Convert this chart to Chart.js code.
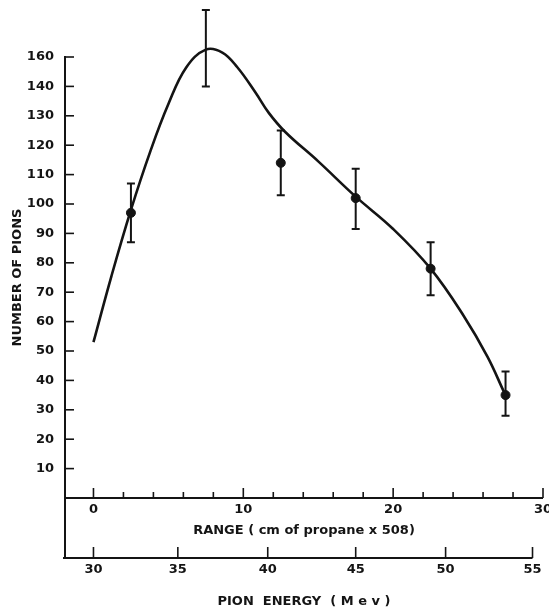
<!DOCTYPE html>
<html>
<head>
<meta charset="utf-8">
<script src="https://cdn.jsdelivr.net/npm/chart.js@4/dist/chart.umd.min.js"></script>
<style>
  html, body { margin: 0; padding: 0; background: #fff; }
  #wrap { width: 549px; height: 611px; }
</style>
</head>
<body>
<div id="wrap"><canvas id="chart"></canvas></div>
<script>
// Measured points (range in cm of propane x 508, number of pions).
const pointRange = [2.5, 7.5, 12.5, 17.5, 22.5, 27.5];
const pointCount = [97, 152.5, 114, 102, 78, 35];
const errLow = [87, 140, 103, 91.5, 69, 28];
const errHigh = [107, 166, 125, 112, 87, 43];

// Hand-drawn smooth curve through the points.
const curveRange = [0, 1.2, 2.5, 3.8, 5, 6.2, 7.5, 8.6, 9.6, 10.8, 11.7, 12.8,
  15, 17.5, 20, 22.5, 24.7, 26.3, 27.4];
const curveCount = [53, 75.5, 98, 118, 134, 146.5, 152.5, 151.5, 146.5, 138, 131, 124.5,
  114.5, 102.5, 91.5, 78, 62, 48, 36];

// Axes.
const yTicks = [10, 20, 30, 40, 50, 60, 70, 80, 90, 100, 110, 120, 130, 140, 150];
const rangeTicks = [0, 10, 20, 30];
const rangeMinorTicks = [0, 2, 4, 6, 8, 10, 12, 14, 16, 18, 20, 22, 24, 26, 28, 30];
const energyLabels = ['30', '35', '40', '45', '50', '55'];
const energyAtRange = [0, 5.63, 11.63, 17.5, 23.5, 29.3];

const INK = '#141414';
const FONT = {family: 'DejaVu Sans', size: 13, weight: 'bold'};

// Axis lines, tick marks and error bars, drawn off the chart's own scales.
const axesPlugin = {
  id: 'oldAxes',
  afterDatasetsDraw(chart) {
    const ctx = chart.ctx;
    const x = chart.scales.x;
    const y = chart.scales.y;
    const e = chart.scales.energy;
    const area = chart.chartArea;
    ctx.save();
    ctx.strokeStyle = INK;
    ctx.lineCap = 'butt';

    // vertical axis
    ctx.lineWidth = 2;
    ctx.beginPath();
    ctx.moveTo(area.left, y.getPixelForValue(150) - 1);
    ctx.lineTo(area.left, e.top + 1);
    ctx.stroke();
    ctx.lineWidth = 1.6;
    yTicks.forEach(function(v) {
      const py = y.getPixelForValue(v);
      ctx.beginPath();
      ctx.moveTo(area.left, py);
      ctx.lineTo(area.left + 9, py);
      ctx.stroke();
    });

    // range axis
    ctx.lineWidth = 2;
    ctx.beginPath();
    ctx.moveTo(area.left, area.bottom);
    ctx.lineTo(x.getPixelForValue(30), area.bottom);
    ctx.stroke();
    ctx.lineWidth = 1.6;
    rangeMinorTicks.forEach(function(v) {
      const px = x.getPixelForValue(v);
      const h = (v % 10 === 0) ? 10 : 6;
      ctx.beginPath();
      ctx.moveTo(px, area.bottom);
      ctx.lineTo(px, area.bottom - h);
      ctx.stroke();
    });

    // energy axis
    ctx.lineWidth = 2;
    ctx.beginPath();
    ctx.moveTo(area.left - 2, e.top);
    ctx.lineTo(e.getPixelForValue(energyAtRange[energyAtRange.length - 1]), e.top);
    ctx.stroke();
    ctx.lineWidth = 1.6;
    energyAtRange.forEach(function(v) {
      const px = e.getPixelForValue(v);
      ctx.beginPath();
      ctx.moveTo(px, e.top);
      ctx.lineTo(px, e.top - 11);
      ctx.stroke();
    });

    // error bars
    ctx.lineWidth = 2;
    for (let i = 0; i < pointRange.length; ++i) {
      const px = x.getPixelForValue(pointRange[i]);
      const top = y.getPixelForValue(errHigh[i]);
      const bot = y.getPixelForValue(errLow[i]);
      ctx.beginPath();
      ctx.moveTo(px, top);
      ctx.lineTo(px, bot);
      ctx.moveTo(px - 4, top);
      ctx.lineTo(px + 4, top);
      ctx.moveTo(px - 4, bot);
      ctx.lineTo(px + 4, bot);
      ctx.stroke();
    }
    ctx.restore();
  }
};

const curveData = curveRange.map(function(r, i) { return {x: r, y: curveCount[i]}; });
const pointData = pointRange.map(function(r, i) { return {x: r, y: pointCount[i]}; });

new Chart(document.getElementById('chart'), {
  type: 'scatter',
  data: {
    datasets: [
      {
        data: curveData,
        showLine: true,
        borderColor: INK,
        borderWidth: 2.6,
        pointRadius: 0,
        tension: 0.4,
        clip: false
      },
      {
        data: pointData,
        backgroundColor: INK,
        borderColor: INK,
        pointRadius: 4.5,
        clip: false
      }
    ]
  },
  options: {
    responsive: true,
    maintainAspectRatio: false,
    animation: false,
    events: [],
    layout: {padding: {left: 0, right: 6, top: 57, bottom: 0}},
    plugins: {legend: {display: false}, tooltip: {enabled: false}},
    scales: {
      y: {
        type: 'linear',
        position: 'left',
        min: 0,
        max: 150,
        grid: {display: false},
        border: {display: false},
        afterBuildTicks: function(s) { s.ticks = yTicks.map(function(v) { return {value: v}; }); },
        afterFit: function(s) { s.width = 65; },
        ticks: {
          color: INK,
          font: FONT,
          padding: 3,
          // the original figure labels its top tick "160"
          callback: function(v) { return v === 150 ? '160' : String(v); }
        },
        title: {
          display: true,
          text: 'NUMBER OF PIONS',
          color: INK,
          font: FONT,
          padding: {top: 10, bottom: 0}
        }
      },
      x: {
        type: 'linear',
        position: 'bottom',
        weight: 0,
        min: -1.9,
        max: 30,
        grid: {display: false},
        border: {display: false},
        afterBuildTicks: function(s) { s.ticks = rangeTicks.map(function(v) { return {value: v}; }); },
        afterFit: function(s) { s.height = 60; s.paddingLeft = 0; s.paddingRight = 0; },
        ticks: {color: INK, font: FONT, padding: -4, maxRotation: 0},
        title: {
          display: true,
          text: 'RANGE ( cm of propane x 508)',
          color: INK,
          font: FONT,
          padding: {top: 0, bottom: 20}
        }
      },
      energy: {
        type: 'linear',
        position: 'bottom',
        weight: 1,
        min: -1.9,
        max: 30,
        grid: {display: false},
        border: {display: false},
        afterBuildTicks: function(s) { s.ticks = energyAtRange.map(function(v) { return {value: v}; }); },
        afterFit: function(s) { s.height = 53; s.paddingLeft = 0; s.paddingRight = 0; },
        ticks: {
          color: INK,
          font: FONT,
          padding: -4,
          maxRotation: 0,
          callback: function(v, i) { return energyLabels[i]; }
        },
        title: {
          display: true,
          text: 'PION  ENERGY  ( M e v )',
          color: INK,
          font: FONT,
          padding: {top: 0, bottom: 2}
        }
      }
    }
  },
  plugins: [axesPlugin]
});
</script>
</body>
</html>
